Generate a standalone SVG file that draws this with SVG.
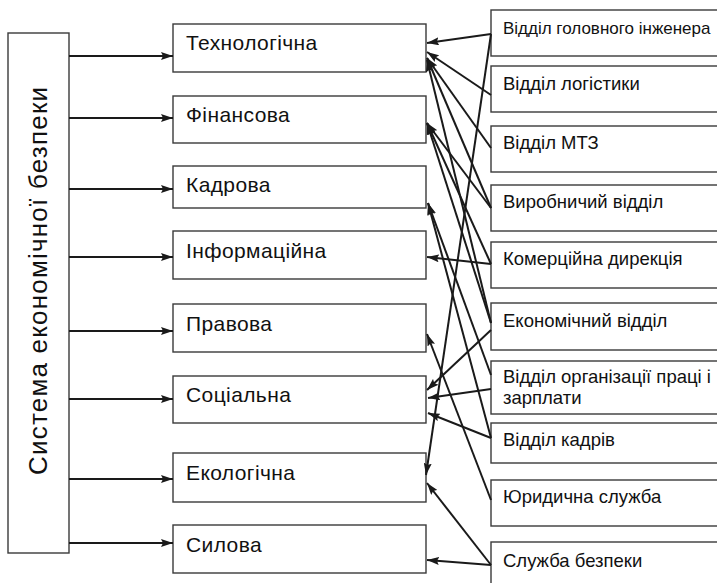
<svg xmlns="http://www.w3.org/2000/svg" width="717" height="583" viewBox="0 0 717 583">
<defs>
<style>
.box{fill:#fff;stroke:#3a3a3a;stroke-width:1.4}
.t{font-family:"Liberation Sans",Arial,sans-serif;fill:#111}
.m{font-size:21px;letter-spacing:0.4px}
.r{font-size:18.5px}
.c{stroke:#1a1a1a;stroke-width:2;fill:none;marker-end:url(#a)}
</style>
<marker id="a" viewBox="0 0 12 8" refX="12" refY="4" markerWidth="12" markerHeight="8" orient="auto" markerUnits="userSpaceOnUse">
<path d="M0,0 L12,4 L0,8 L2,4 z" fill="#1a1a1a"/>
</marker>
</defs>
<g id="main">
<rect class="box" x="8" y="33" width="61" height="520"/>
<text class="t" font-size="26" text-anchor="middle" textLength="388" lengthAdjust="spacing" transform="translate(47,281) rotate(-90)">Система економічної безпеки</text>
</g>
<g id="mid">
<g id="n-tech"><rect class="box" x="173" y="24" width="253" height="48"/><text class="t m" x="186" y="50">Технологічна</text></g>
<g id="n-fin"><rect class="box" x="173" y="96" width="253" height="47"/><text class="t m" x="186" y="122">Фінансова</text></g>
<g id="n-kadr"><rect class="box" x="173" y="166" width="253" height="42"/><text class="t m" x="186" y="192">Кадрова</text></g>
<g id="n-inf"><rect class="box" x="173" y="231" width="253" height="48"/><text class="t m" x="186" y="258">Інформаційна</text></g>
<g id="n-prav"><rect class="box" x="173" y="304" width="253" height="48"/><text class="t m" x="186" y="331">Правова</text></g>
<g id="n-soc"><rect class="box" x="173" y="376" width="253" height="47"/><text class="t m" x="186" y="402">Соціальна</text></g>
<g id="n-eko"><rect class="box" x="173" y="453" width="253" height="49"/><text class="t m" x="186" y="480">Екологічна</text></g>
<g id="n-sil"><rect class="box" x="173" y="525" width="253" height="48"/><text class="t m" x="186" y="552">Силова</text></g>
</g>
<g id="right">
<g id="d-gi"><rect class="box" x="491" y="10" width="240" height="46"/><text class="t" font-size="17" x="503" y="34">Відділ головного інженера</text></g>
<g id="d-log"><rect class="box" x="491" y="66" width="240" height="46"/><text class="t r" x="503" y="90">Відділ логістики</text></g>
<g id="d-mtz"><rect class="box" x="491" y="126" width="240" height="46"/><text class="t r" x="503" y="149">Відділ МТЗ</text></g>
<g id="d-vyr"><rect class="box" x="491" y="185" width="240" height="46"/><text class="t r" x="503" y="208">Виробничий відділ</text></g>
<g id="d-kom"><rect class="box" x="491" y="242" width="240" height="46"/><text class="t r" x="503" y="265">Комерційна дирекція</text></g>
<g id="d-eko"><rect class="box" x="491" y="303" width="240" height="47"/><text class="t r" x="503" y="327">Економічний відділ</text></g>
<g id="d-org"><rect class="box" x="491" y="361" width="240" height="53"/><text class="t r" x="503" y="383">Відділ організації праці і</text><text class="t r" x="503" y="404">зарплати</text></g>
<g id="d-kadr"><rect class="box" x="491" y="423" width="240" height="40"/><text class="t r" x="503" y="446">Відділ кадрів</text></g>
<g id="d-yur"><rect class="box" x="491" y="480" width="240" height="46"/><text class="t r" x="503" y="503">Юридична служба</text></g>
<g id="d-sb"><rect class="box" x="491" y="542" width="240" height="60"/><text class="t r" x="503" y="567">Служба безпеки</text></g>
</g>
<g id="connectors">
<line class="c" x1="69" y1="56" x2="173" y2="56"/>
<line class="c" x1="69" y1="118" x2="173" y2="118"/>
<line class="c" x1="69" y1="189" x2="173" y2="189"/>
<line class="c" x1="69" y1="257" x2="173" y2="257"/>
<line class="c" x1="69" y1="331" x2="173" y2="331"/>
<line class="c" x1="69" y1="399" x2="173" y2="399"/>
<line class="c" x1="69" y1="479" x2="173" y2="479"/>
<line class="c" x1="69" y1="543" x2="173" y2="543"/>
<line class="c" x1="491" y1="34" x2="427" y2="43"/>
<line class="c" x1="491" y1="34" x2="426" y2="475"/>
<line class="c" x1="491" y1="95" x2="427" y2="52"/>
<line class="c" x1="491" y1="148" x2="427" y2="58"/>
<line class="c" x1="491" y1="208" x2="427" y2="58"/>
<line class="c" x1="491" y1="208" x2="427" y2="123"/>
<line class="c" x1="491" y1="264" x2="427" y2="123"/>
<line class="c" x1="491" y1="323" x2="427" y2="60"/>
<line class="c" x1="491" y1="323" x2="427" y2="123"/>
<line class="c" x1="491" y1="264" x2="427" y2="257"/>
<line class="c" x1="491" y1="330" x2="427" y2="390"/>
<line class="c" x1="491" y1="375" x2="428" y2="203"/>
<line class="c" x1="491" y1="389" x2="428" y2="398"/>
<line class="c" x1="491" y1="438" x2="428" y2="203"/>
<line class="c" x1="491" y1="438" x2="428" y2="413"/>
<line class="c" x1="491" y1="500" x2="427" y2="334"/>
<line class="c" x1="491" y1="565" x2="427" y2="483"/>
<line class="c" x1="491" y1="565" x2="427" y2="560"/>
</g>
</svg>
